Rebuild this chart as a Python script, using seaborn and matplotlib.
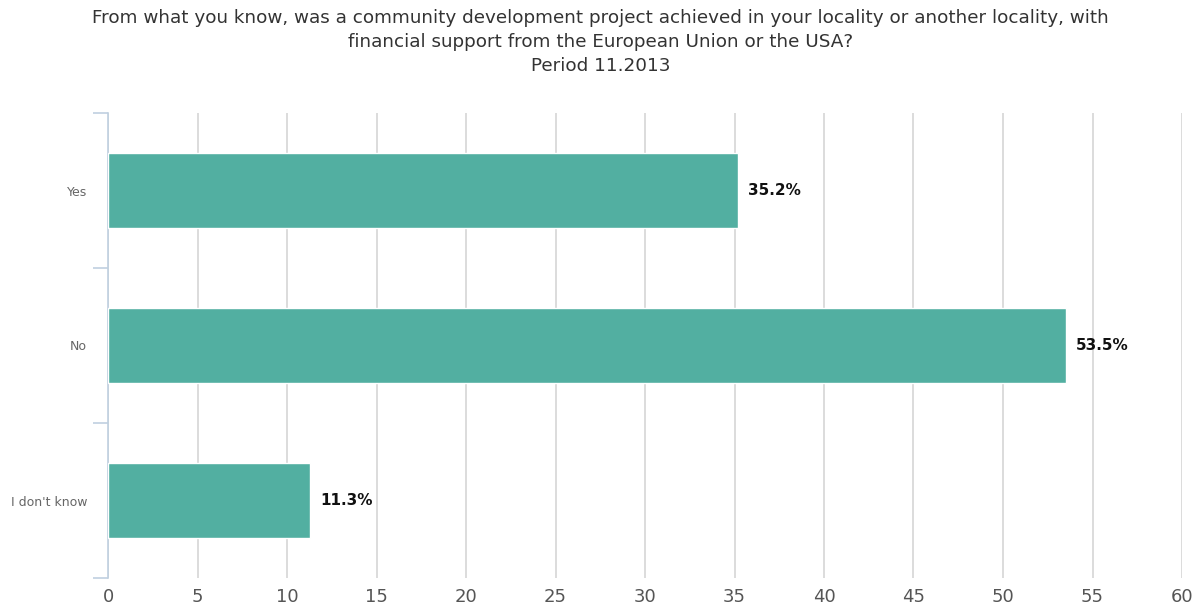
import matplotlib
matplotlib.use("Agg")
import matplotlib.pyplot as plt
import seaborn as sns
import pandas as pd
from matplotlib.ticker import FixedLocator

categories = ["Yes", "No", "I don't know"]
shares = [35.2, 53.5, 11.3]
x_ticks = [0, 5, 10, 15, 20, 25, 30, 35, 40, 45, 50, 55, 60]
title = ("From what you know, was a community development project achieved in your locality or another locality, with\n"
         "financial support from the European Union or the USA?\n"
         "Period 11.2013")

df = pd.DataFrame({"category": categories, "share": shares})

sns.set_style("white")
plt.rcParams["font.family"] = ["DejaVu Sans"]

fig = plt.figure(figsize=(12.01, 6.08), dpi=100)
ax = fig.add_axes([108 / 1201, 1 - 578 / 608, (1182 - 108) / 1201, (578 - 113) / 608])

sns.barplot(data=df, x="share", y="category", orient="h", color="#52afa1",
            width=0.48, saturation=1, ax=ax, zorder=3)

ax.set_xlim(0, 60)
ax.set_ylim(2.5, -0.5)
ax.set_xticks(x_ticks)
ax.set_xticklabels([str(t) for t in x_ticks], fontsize=13, color="#555555")
ax.tick_params(axis="x", length=0, pad=7)
ax.grid(axis="x", color="#d6d6d6", linewidth=1.2, zorder=0)
ax.grid(axis="y", visible=False)

ax.tick_params(axis="y", which="major", left=False, length=0, pad=15,
               labelsize=9, labelcolor="#666666")
ax.yaxis.set_minor_locator(FixedLocator([-0.5, 0.5, 1.5, 2.5]))
ax.tick_params(axis="y", which="minor", left=True, length=11, width=1.2,
               color="#c0d0e0")
ax.set_xlabel("")
ax.set_ylabel("")

for side in ["top", "right", "bottom"]:
    ax.spines[side].set_visible(False)
ax.spines["left"].set_color("#c0d0e0")
ax.spines["left"].set_linewidth(1.2)

for container in ax.containers:
    ax.bar_label(container, fmt="%.1f%%", padding=7, fontsize=11,
                 fontweight="bold", color="#111111")

fig.text(0.5, 1 - 9 / 608, title, ha="center", va="top", fontsize=13.2,
         color="#333333", linespacing=1.42)

fig.savefig("out.png", dpi=100)
